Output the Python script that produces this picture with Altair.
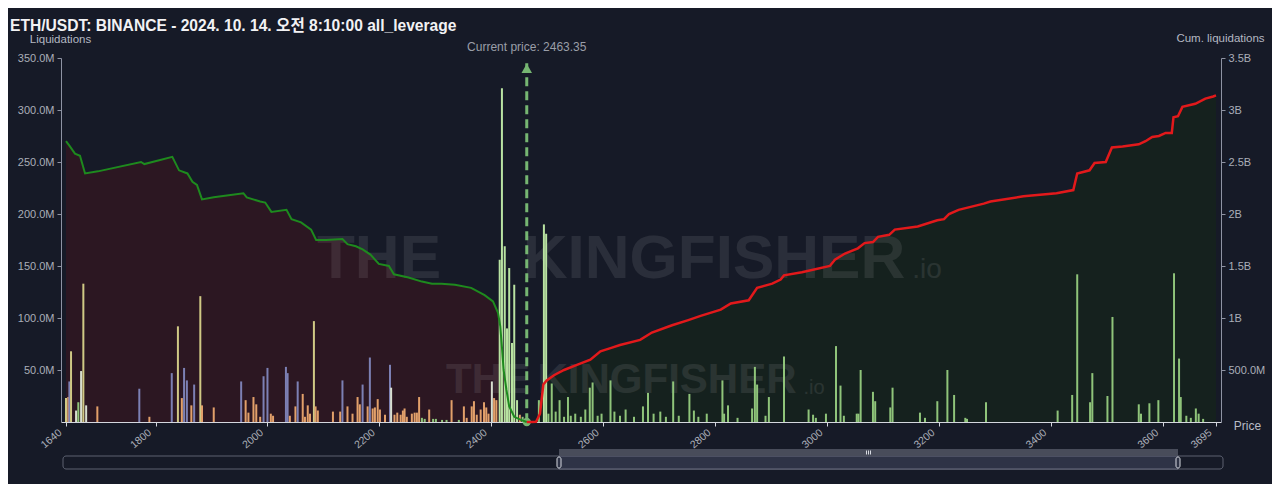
import altair as alt
import pandas as pd

TITLE = "ETH/USDT: BINANCE - 2024. 10. 14. 오전 8:10:00 all_leverage"
CURRENT_PRICE = 2463.35
PRICE_LABEL = "Current price: 2463.35"

x_ticks = [1640, 1800, 2000, 2200, 2400, 2600, 2800, 3000, 3200, 3400, 3600, 3695]
left_ticks = [50, 100, 150, 200, 250, 300, 350]
right_ticks = [0.5, 1, 1.5, 2, 2.5, 3, 3.5]

# liquidation bars (price, millions USD, colour group)
bar_price = [
    1640, 1644, 1646, 1649, 1658, 1662, 1667, 1671, 1676, 1696, 1771, 1789, 1829, 1840, 1847,
    1851, 1856, 1864, 1869, 1880, 1883, 1904, 1953, 1961, 1966, 1975, 1980, 1987, 1993, 2000,
    2006, 2010, 2033, 2036, 2040, 2050, 2054, 2063, 2067, 2072, 2076, 2083, 2086, 2090, 2117,
    2130, 2134, 2143, 2152, 2161, 2165, 2170, 2179, 2183, 2188, 2192, 2197, 2201, 2210, 2219,
    2221, 2227, 2232, 2238, 2242, 2245, 2249, 2258, 2263, 2267, 2271, 2276, 2281, 2289, 2296,
    2301, 2312, 2320, 2329, 2342, 2351, 2356, 2365, 2369, 2374, 2381, 2387, 2391, 2395, 2401,
    2405, 2409, 2415, 2419, 2424, 2428, 2432, 2437, 2441, 2446, 2451, 2456,
    2485, 2494, 2498, 2502, 2508, 2515, 2522, 2530, 2537, 2542, 2550, 2560, 2568, 2576, 2581,
    2590, 2597, 2613, 2620, 2630, 2640, 2655, 2671, 2680, 2690, 2702, 2712, 2725, 2735, 2754,
    2762, 2770, 2785, 2813, 2816, 2823, 2840, 2866, 2871, 2875, 2890, 2896, 2923, 2967, 2975,
    2980, 2998, 3016, 3024, 3030, 3053, 3056, 3060, 3082, 3086, 3113, 3117, 3166, 3175, 3197,
    3215, 3227, 3247, 3250, 3284, 3412, 3438, 3447, 3470, 3474, 3501, 3510, 3557, 3561, 3576,
    3592, 3620, 3629, 3632, 3642, 3650, 3659, 3664, 3672,
]
bar_value = [
    23, 24, 39, 68, 11, 19, 49, 133, 16, 15, 32, 5, 47, 92, 23,
    52, 40, 16, 36, 121, 16, 14, 39, 21, 9, 24, 17, 5, 44, 52,
    8, 6, 53, 47, 6, 15, 39, 27, 5, 16, 8, 97, 15, 11, 10,
    10, 40, 15, 8, 24, 17, 36, 15, 62, 13, 14, 22, 12, 7, 55,
    33, 7, 9, 7, 11, 13, 5, 8, 9, 9, 24, 4, 3, 12, 3,
    3, 2, 2, 21, 2, 15, 4, 15, 20, 7, 12, 19, 14, 8, 39,
    23, 21, 156, 321, 169, 90, 148, 76, 132, 21, 7, 5,
    21, 190, 181, 8, 37, 10, 21, 5, 24, 6, 8, 5, 12, 33, 38,
    6, 8, 40, 10, 6, 12, 5, 15, 28, 8, 10, 5, 39, 6, 27,
    11, 5, 8, 40, 8, 16, 4, 13, 53, 36, 6, 24, 63, 12, 7,
    4, 8, 73, 35, 6, 8, 8, 50, 29, 20, 14, 33, 9, 4, 20,
    50, 26, 4, 3, 19, 11, 26, 142, 19, 47, 25, 101, 17, 8, 18,
    21, 143, 61, 24, 6, 4, 13, 8, 3,
]
bar_kind = [
    "y", "o", "p", "y", "w", "g", "w", "y", "w", "o", "p", "o", "p", "y", "o",
    "p", "p", "o", "p", "y", "o", "o", "p", "o", "o", "o", "o", "o", "p", "p",
    "o", "o", "p", "p", "o", "o", "p", "o", "o", "o", "o", "y", "o", "o", "o",
    "o", "p", "o", "o", "o", "o", "p", "o", "p", "o", "o", "o", "o", "o", "p",
    "w", "o", "o", "o", "o", "o", "o", "o", "o", "o", "o", "g", "g", "o", "g",
    "g", "g", "g", "o", "g", "o", "o", "o", "o", "o", "o", "o", "o", "o", "w",
    "o", "o", "G", "G", "G", "G", "G", "G", "G", "G", "o", "g",
    "g", "G", "G", "g", "g", "g", "g", "g", "g", "g", "g", "g", "g", "g", "g",
    "g", "g", "g", "g", "g", "g", "g", "g", "g", "g", "g", "g", "g", "g", "g",
    "g", "g", "g", "g", "g", "g", "g", "g", "g", "g", "g", "g", "g", "g", "g",
    "g", "g", "g", "g", "g", "g", "g", "g", "g", "g", "g", "g", "g", "g", "g",
    "g", "g", "g", "g", "g", "g", "g", "g", "g", "g", "g", "g", "g", "g", "g",
    "g", "g", "g", "g", "g", "g", "g", "g", "g",
]
kind_domain = ["o", "y", "p", "w", "g", "G"]
kind_colors = ["#e2a06a", "#d0c985", "#7c80b4", "#d8dfd0", "#8fc47a", "#b9e3a2"]

# cumulative liquidations (billions USD)
short_price = [
    1640, 1647, 1656, 1665, 1674, 1697, 1774, 1780, 1830, 1842, 1857, 1866, 1874, 1883, 1904,
    1957, 1963, 1987, 1996, 2007, 2034, 2043, 2060, 2078, 2087, 2105, 2134, 2143, 2158, 2170,
    2184, 2199, 2217, 2226, 2252, 2276, 2294, 2311, 2335, 2364, 2388, 2403, 2412, 2416, 2419,
    2422, 2427, 2432, 2441, 2453, 2463.35,
]
short_cum = [
    2.70, 2.65, 2.58, 2.56, 2.39, 2.41, 2.50, 2.48, 2.55, 2.42, 2.39, 2.31, 2.28, 2.14, 2.16,
    2.20, 2.16, 2.12, 2.11, 2.02, 2.04, 1.95, 1.92, 1.85, 1.75, 1.75, 1.76, 1.71, 1.69, 1.66,
    1.61, 1.52, 1.50, 1.42, 1.39, 1.35, 1.33, 1.33, 1.32, 1.29, 1.22, 1.16, 1.05, 0.92, 0.72,
    0.50, 0.31, 0.15, 0.05, 0.02, 0.0,
]
long_price = [
    2463.35, 2471, 2480, 2487, 2493, 2499, 2512, 2530, 2553, 2577, 2595, 2613, 2630, 2666, 2687,
    2723, 2752, 2774, 2810, 2828, 2860, 2875, 2902, 2917, 2923, 2955, 3005, 3014, 3032, 3055,
    3067, 3082, 3091, 3111, 3121, 3162, 3197, 3209, 3218, 3235, 3280, 3292, 3351, 3410, 3440,
    3447, 3469, 3478, 3498, 3509, 3528, 3557, 3569, 3581, 3593, 3605, 3616, 3619, 3627, 3635,
    3658, 3676, 3690, 3695,
]
long_cum = [
    0.0, 0.0, 0.003, 0.08, 0.36, 0.40, 0.45, 0.50, 0.55, 0.60, 0.68, 0.71, 0.74, 0.79, 0.86,
    0.93, 0.98, 1.02, 1.08, 1.14, 1.17, 1.29, 1.33, 1.37, 1.41, 1.44, 1.50, 1.56, 1.62, 1.67,
    1.72, 1.73, 1.78, 1.80, 1.85, 1.88, 1.94, 1.95, 2.00, 2.04, 2.10, 2.12, 2.17, 2.20, 2.23,
    2.39, 2.42, 2.49, 2.50, 2.64, 2.65, 2.67, 2.70, 2.74, 2.75, 2.78, 2.78, 2.93, 2.94, 3.03,
    3.06, 3.11, 3.13, 3.14,
]

assert len(bar_price) == len(bar_value) == len(bar_kind)
assert len(short_price) == len(short_cum) and len(long_price) == len(long_cum)

bars_df = pd.DataFrame({"price": bar_price, "value": bar_value, "kind": bar_kind})
short_df = pd.DataFrame({"price": short_price, "cum": short_cum})
long_df = pd.DataFrame({"price": long_price, "cum": long_cum})
cp_df = pd.DataFrame({"price": [CURRENT_PRICE], "top": [345.0], "arrow": [340.0], "bottom": [0.0],
                      "label": [PRICE_LABEL]})

BG = "#161a27"
FONT = "Liberation Sans, Arial, Noto Sans CJK KR, sans-serif"
LABEL_C = "#aaaeb8"
W, H = 1160, 364

x_scale = alt.Scale(domain=[1640, 3695], nice=False, zero=False)
x_axis = alt.Axis(
    values=x_ticks, format="d", labelAngle=-40, labelAlign="right", labelBaseline="middle",
    labelColor=LABEL_C, labelFontSize=10.5, labelFont=FONT, labelPadding=5, labelOffset=-6,
    domainColor="#d4d7de", tickColor="#d4d7de", tickSize=4, grid=False,
    title="Price", titleX=1186, titleY=3, titleAngle=0, titleAlign="center",
    titleBaseline="middle", titleColor="#b8bcc6", titleFontSize=12,
    titleFontWeight="normal", titleFont=FONT, labelOverlap=False,
)


def X(field="price"):
    return alt.X(f"{field}:Q", scale=x_scale, axis=x_axis)


cum_scale = alt.Scale(domain=[0, 3.5], nice=False, zero=True)
cum_axis = alt.Axis(
    orient="right", values=right_ticks,
    labelExpr="datum.value < 1 ? format(datum.value * 1000, '.1f') + 'M' : format(datum.value, '~g') + 'B'",
    labelColor=LABEL_C, labelFontSize=11, labelFont=FONT, labelPadding=3,
    domainColor="#8e93a3", tickColor="#8e93a3", tickSize=4, grid=False,
    title="Cum. liquidations", titleAngle=0, titleX=-1, titleY=-20, titleAlign="center",
    titleBaseline="middle", titleColor="#b4b8c2", titleFontSize=11.5, titleFontWeight="normal",
    titleFont=FONT,
)
liq_scale = alt.Scale(domain=[0, 350], nice=False, zero=True)
liq_axis = alt.Axis(
    orient="left", values=left_ticks,
    labelExpr="format(datum.value, '.1f') + 'M'",
    labelColor=LABEL_C, labelFontSize=11, labelFont=FONT, labelPadding=3,
    domainColor="#8e93a3", tickColor="#8e93a3", tickSize=4, grid=False,
    title="Liquidations", titleAngle=0, titleX=-1, titleY=-19, titleAlign="center",
    titleBaseline="middle", titleColor="#b4b8c2", titleFontSize=11.5, titleFontWeight="normal",
    titleFont=FONT,
)

# --- cumulative fills (right axis)
area_short = alt.Chart(short_df).mark_area(color="#2c1722", interpolate="linear").encode(
    x=X(), y=alt.Y("cum:Q", scale=cum_scale, axis=cum_axis))
area_long = alt.Chart(long_df).mark_area(color="#15211e", interpolate="linear").encode(
    x=X(), y=alt.Y("cum:Q", scale=cum_scale, axis=cum_axis))
areas = alt.layer(area_short, area_long)


def one(text):
    return pd.DataFrame({"t": [text]})


def deco_text(text, x, y, **kw):
    return alt.Chart(one(text)).mark_text(**kw).encode(
        x=alt.value(x), y=alt.value(y), text="t:N")


def deco_rect(x, x2, y, y2, **kw):
    return alt.Chart(one("r")).mark_rect(**kw).encode(
        x=alt.value(x), x2=alt.value(x2), y=alt.value(y), y2=alt.value(y2))


WM = dict(font="Liberation Sans, sans-serif", fontWeight="bold",
          color="#ffffff", opacity=0.085, align="center", baseline="middle")
WMS = dict(font="Liberation Sans, sans-serif", fontWeight="normal",
           color="#ffffff", opacity=0.085, align="center", baseline="middle")
watermarks = [
    deco_text("THE", 318, 201, fontSize=62, **WM),
    deco_text("KINGFISHER", 653, 201, fontSize=62, **WM),
    deco_text(".io", 866, 212, fontSize=28, **WMS),
    deco_text("THE", 427, 322, fontSize=42, **WM),
    deco_text("KINGFISHER", 606, 322, fontSize=42, **WM),
    deco_text(".io", 753, 330, fontSize=20, **WMS),
]

bars = alt.Chart(bars_df).mark_bar(size=2).encode(
    x=X(),
    y=alt.Y("value:Q", scale=liq_scale, axis=liq_axis),
    color=alt.Color("kind:N", scale=alt.Scale(domain=kind_domain, range=kind_colors), legend=None),
)

CP_C = "#76b672"
cp_rule = alt.Chart(cp_df).mark_rule(color=CP_C, strokeWidth=3, strokeDash=[9, 5]).encode(
    x=X(), y=alt.Y("top:Q", scale=liq_scale, axis=liq_axis), y2="bottom:Q")
cp_arrow = alt.Chart(cp_df).mark_point(shape="triangle-up", filled=True, color=CP_C,
                                       size=110, opacity=1).encode(
    x=X(), y=alt.Y("arrow:Q", scale=liq_scale, axis=liq_axis))
cp_dot = alt.Chart(cp_df).mark_point(shape="circle", filled=True, color=CP_C,
                                     size=70, opacity=1).encode(
    x=X(), y=alt.Y("bottom:Q", scale=liq_scale, axis=liq_axis))
cp_label = alt.Chart(cp_df).mark_text(color="#9a9ea8", fontSize=12, font=FONT,
                                      align="center", baseline="middle").encode(
    x=X(), y=alt.value(-11), text="label:N")

title = deco_text(TITLE, -51, -32, font=FONT, fontSize=15.6, fontWeight="bold",
                  color="#f2f2f4", align="left", baseline="middle")

# data-zoom slider beneath the chart
GRIP = "#d8dbe2"
slider = [
    deco_rect(2, 1162, 398, 411, fill=BG, stroke="#5c6170", strokeWidth=1, cornerRadius=3),
    deco_rect(498, 1117, 398, 411, fill="#2e3346", stroke="#6a6f80", strokeWidth=1),
    deco_rect(498, 1117, 391, 398, fill="#484c5a"),
    deco_rect(496, 500, 399, 410, fill="#2e3346", stroke=GRIP, strokeWidth=1, cornerRadius=2),
    deco_rect(1115, 1119, 399, 410, fill="#2e3346", stroke=GRIP, strokeWidth=1, cornerRadius=2),
    deco_rect(805, 806, 392.5, 396.5, fill=GRIP),
    deco_rect(807, 808, 392.5, 396.5, fill=GRIP),
    deco_rect(809, 810, 392.5, 396.5, fill=GRIP),
]

middle = alt.layer(*watermarks, bars, cp_rule, cp_arrow, cp_dot, cp_label, title, *slider)

line_short = alt.Chart(short_df).mark_line(color="#1e8a1e", strokeWidth=2).encode(
    x=X(), y=alt.Y("cum:Q", scale=cum_scale, axis=None))
line_long = alt.Chart(long_df).mark_line(color="#e2191b", strokeWidth=2.5).encode(
    x=X(), y=alt.Y("cum:Q", scale=cum_scale, axis=None))
lines = alt.layer(line_short, line_long)

chart = alt.layer(areas, middle, lines).resolve_scale(y="independent").properties(
    width=W, height=H, background=BG,
    padding={"left": 53, "top": 50, "right": 51, "bottom": 62},
    autosize=alt.AutoSizeParams(type="none"),
).configure_view(stroke=None)

chart.save("out.html", embed_options={"renderer": "svg", "actions": False})
